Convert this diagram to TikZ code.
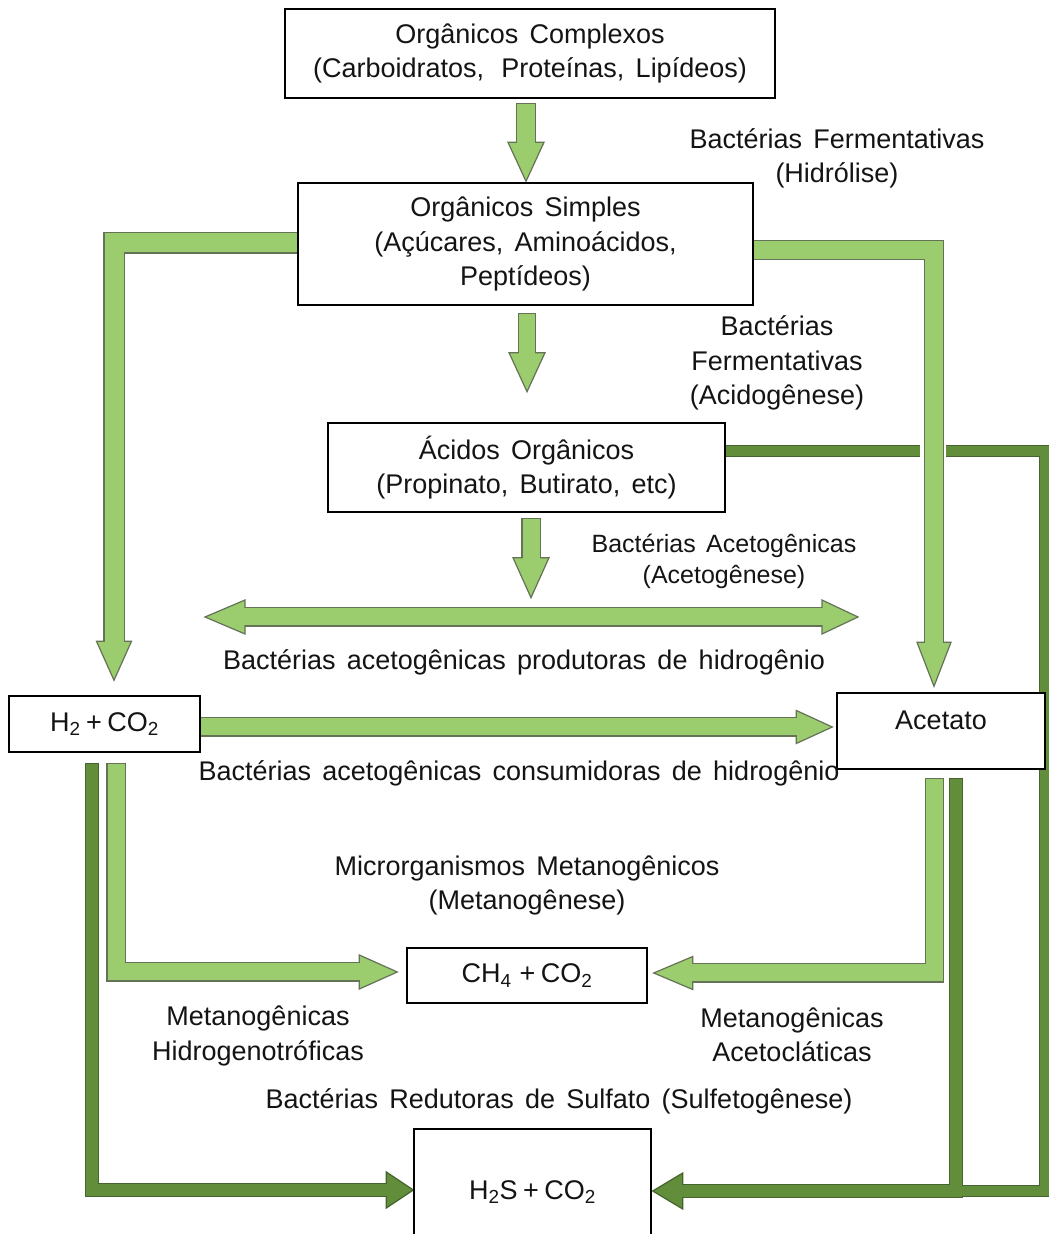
\documentclass[tikz,border=0pt]{standalone}
\usepackage{fontspec}
\setmainfont{Liberation Sans}[WordSpace=1.5]
\usetikzlibrary{calc,backgrounds}
\definecolor{lgfill}{RGB}{155,204,110}
\definecolor{lgline}{RGB}{100,115,88}
\definecolor{dgfill}{RGB}{98,142,60}
\definecolor{dgline}{RGB}{70,100,45}
\definecolor{txt}{RGB}{20,20,20}
% #1 fill, #2 outline, #3 path ending at head start, #4 head start, #5 tip, #6 shaft width, #7 outer width, #8 half head width
\newcommand{\blockarr}[8]{%
  \draw[draw=#2, line width=#7, line join=miter, line cap=butt, shorten <=-1pt] #3;
  \filldraw[fill=#1, draw=#2, line width=1.2pt, line join=miter] ($(#4)!#8!90:(#5)$) -- (#5) -- ($(#4)!#8!-90:(#5)$) -- cycle;
  \draw[draw=#1, line width=#6, line join=miter, line cap=butt] #3 -- ($(#4)!2pt!(#5)$);
}
\newcommand{\tplus}{\kern0.2em+\kern0.2em}
\begin{document}
\begin{tikzpicture}[x=1pt,y=1pt,
  every node/.style={font=\fontsize{27}{34.5}\selectfont, text=txt},
  box/.style={draw=black, line width=1.4pt, fill=white, inner sep=0pt, align=center},
  lbl/.style={inner sep=0pt, align=center}]
\useasboundingbox (0,0) rectangle (1049,1234);

% boxes
\node[box, minimum width=490pt, minimum height=89pt] (b1) at (530,1180.5) {Orgânicos Complexos\\(Carboidratos,\kern6pt{} Proteínas, Lipídeos)};
\node[box, minimum width=455pt, minimum height=122pt] (b2) at (525.5,990) {Orgânicos Simples\\(Açúcares, Aminoácidos,\\Peptídeos)};
\node[box, minimum width=397pt, minimum height=89pt] (b3) at (526.5,766.5) {Ácidos Orgânicos\\(Propinato, Butirato, etc)};
\node[box, minimum width=191pt, minimum height=56pt] (h2) at (104.5,510) {H\textsubscript{2}\tplus CO\textsubscript{2}};
\node[box, minimum width=208pt, minimum height=76pt] (ac) at (941,503) {\raisebox{22pt}{Acetato}};
\node[box, minimum width=240pt, minimum height=55pt] (ch4) at (527,258.5) {CH\textsubscript{4}\kern0.3em+\kern0.2em CO\textsubscript{2}};
\node[box, minimum width=237pt, minimum height=126pt] (h2s) at (532.5,42) {H\textsubscript{2}S\tplus CO\textsubscript{2}};

% labels
\node[lbl] (l1) at (837,1075.5) {Bactérias Fermentativas\\(Hidrólise)};
\node[lbl] (l2) at (777,871) {Bactérias\\Fermentativas\\(Acidogênese)};
\node[lbl, font=\fontsize{25}{31}\selectfont] (l3) at (724,672.5) {Bactérias Acetogênicas\\(Acetogênese)};
\node[lbl] (l4) at (524,572) {Bactérias acetogênicas produtoras de hidrogênio};
\node[lbl] (l5) at (519,461) {Bactérias acetogênicas consumidoras de hidrogênio};
\node[lbl] (l6) at (527,348.5) {Microrganismos Metanogênicos\\(Metanogênese)};
\node[lbl] (l7) at (258,198) {Metanogênicas\\Hidrogenotróficas};
\node[lbl] (l8) at (792,199) {Metanogênicas\\Acetocláticas};
\node[lbl] (l9) at (559,133) {Bactérias Redutoras de Sulfato (Sulfetogênese)};

% connector points
\coordinate (a1s) at ($(b1.south)+(-4,-5)$);
\coordinate (a1e) at ($(b2.north -| a1s)+(0,1)$);
\coordinate (a1h) at ($(a1e)+(0,39)$);
\coordinate (a2s) at ($(b2.south)+(1.5,-8)$);
\coordinate (a2h) at ($(a2s)+(0,-39)$);
\coordinate (a2e) at ($(a2s)+(0,-78)$);
\coordinate (a3s) at ($(b3.south)+(4.5,-6)$);
\coordinate (a3h) at ($(a3s)+(0,-39)$);
\coordinate (a3e) at ($(a3s)+(0,-79)$);
\coordinate (dal) at (205,617);
\coordinate (dar) at (858,617);
\coordinate (dalh) at ($(dal)+(40,0)$);
\coordinate (darh) at ($(dar)+(-36,0)$);
\coordinate (has) at ($(h2.east)+(0,-3)$);
\coordinate (hae) at ($(ac.west |- has)+(-4,0)$);
\coordinate (hah) at ($(hae)+(-36,0)$);
\coordinate (lls) at ($(b2.west)+(0,1)$);
\coordinate (lle) at ($(h2.north)+(9.5,15)$);
\coordinate (llh) at ($(lle)+(0,39)$);
\coordinate (rls) at ($(b2.east)+(0,-6)$);
\coordinate (rle) at ($(ac.north)+(-7,6)$);
\coordinate (rlh) at ($(rle)+(0,44)$);
\coordinate (acs) at ($(ac.south)+(-6.5,-9)$);
\coordinate (ace) at ($(ch4.east)+(6,2.5)$);
\coordinate (ach) at ($(ace)+(39,0)$);
\coordinate (hcs) at ($(h2.south)+(11.5,-11)$);
\coordinate (hce) at ($(ch4.west)+(-9,3.5)$);
\coordinate (hch) at ($(hce)+(-38,0)$);
\coordinate (hss) at ($(h2.south)+(-12.5,-11)$);
\coordinate (hse) at ($(h2s.west)+(0,2)$);
\coordinate (hsh) at ($(hse)+(-27,0)$);
\coordinate (d1s) at ($(ac.south)+(14.5,-9)$);
\coordinate (d1e) at ($(h2s.east)+(1,1)$);
\coordinate (d1h) at ($(d1e)+(30,0)$);
\coordinate (d2s) at ($(b3.east)+(0,16.5)$);
\coordinate (d2c) at (1045,0 |- d1e);
\coordinate (d2j) at (d1s |- d1e);

\begin{pgfonlayer}{background}
\fill[white] (0,0) rectangle (1049,1234);
% dark green connectors
\draw[draw=dgline, line width=12pt, line join=miter, line cap=butt] (d2s) -| (d2c) -- (d2j);
\draw[draw=dgline, line width=14pt, line join=miter, line cap=butt, shorten <=-1pt] (d1s) |- (d1h);
\filldraw[fill=dgfill, draw=dgline, line width=1.2pt, line join=miter] ($(d1h)!18pt!90:(d1e)$) -- (d1e) -- ($(d1h)!18pt!-90:(d1e)$) -- cycle;
\draw[draw=dgfill, line width=10pt, line join=miter, line cap=butt] (d2s) -| (d2c) -- (d2j);
\draw[draw=dgfill, line width=12pt, line join=miter, line cap=butt] (d1s) |- (d1h) -- ($(d1h)!2pt!(d1e)$);
\blockarr{dgfill}{dgline}{(hss) |- (hsh)}{hsh}{hse}{12pt}{14pt}{18pt}
% gap where the light arrow crosses
\fill[white] ($(rle |- d2s)+(-14,-8)$) rectangle ($(rle |- d2s)+(12,8)$);
% light green connectors
\blockarr{lgfill}{lgline}{(a1s) -- (a1h)}{a1h}{a1e}{18pt}{20.4pt}{18pt}
\blockarr{lgfill}{lgline}{(a2s) -- (a2h)}{a2h}{a2e}{16pt}{18.4pt}{18pt}
\blockarr{lgfill}{lgline}{(a3s) -- (a3h)}{a3h}{a3e}{17pt}{19.4pt}{18pt}
\blockarr{lgfill}{lgline}{(has) -- (hah)}{hah}{hae}{17pt}{19.4pt}{16.5pt}
\blockarr{lgfill}{lgline}{(lls) -| (llh)}{llh}{lle}{19pt}{21.4pt}{17.5pt}
\blockarr{lgfill}{lgline}{(rls) -| (rlh)}{rlh}{rle}{18pt}{20.4pt}{17pt}
\blockarr{lgfill}{lgline}{(acs) |- (ach)}{ach}{ace}{17pt}{19.4pt}{16.5pt}
\blockarr{lgfill}{lgline}{(hcs) |- (hch)}{hch}{hce}{17pt}{19.4pt}{17pt}
% double-headed arrow
\draw[draw=lgline, line width=19.4pt, line cap=butt] (dalh) -- (darh);
\filldraw[fill=lgfill, draw=lgline, line width=1.2pt, line join=miter] ($(dalh)!17pt!90:(dal)$) -- (dal) -- ($(dalh)!17pt!-90:(dal)$) -- cycle;
\filldraw[fill=lgfill, draw=lgline, line width=1.2pt, line join=miter] ($(darh)!17pt!90:(dar)$) -- (dar) -- ($(darh)!17pt!-90:(dar)$) -- cycle;
\draw[draw=lgfill, line width=17pt, line cap=butt] ($(dalh)!2pt!(dal)$) -- ($(darh)!2pt!(dar)$);
\end{pgfonlayer}
\end{tikzpicture}
\end{document}
